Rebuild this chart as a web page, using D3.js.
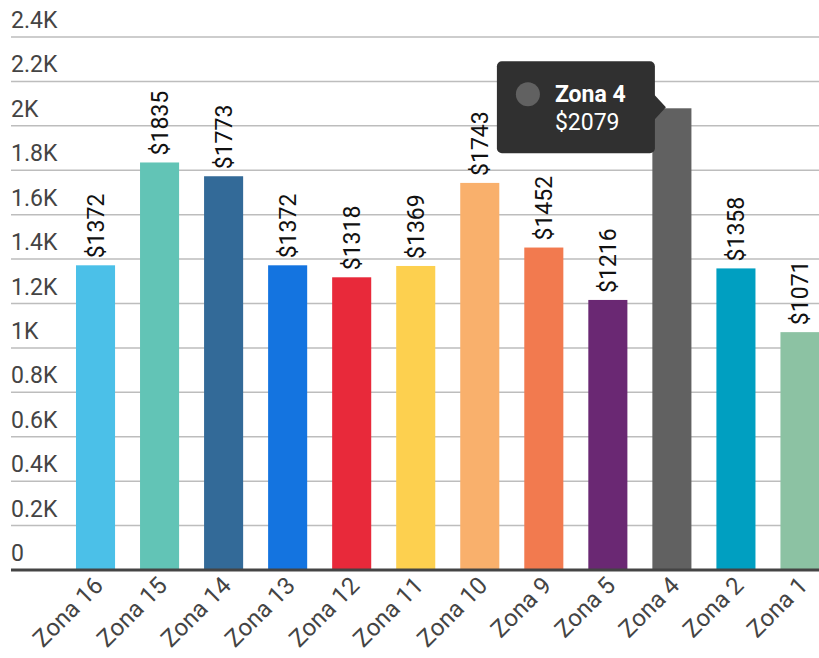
<!DOCTYPE html>
<html>
<head>
<meta charset="utf-8">
<script src="https://cdn.jsdelivr.net/npm/d3@7"></script>
<style>
  body { margin: 0; background: #fff; }
  svg { display: block; font-family: Roboto, sans-serif; }
</style>
</head>
<body>
<div id="chart"></div>
<script>
// dados - data
var zonas = ['Zona 16', 'Zona 15', 'Zona 14', 'Zona 13', 'Zona 12', 'Zona 11', 'Zona 10', 'Zona 9', 'Zona 5', 'Zona 4', 'Zona 2', 'Zona 1'];
var valores = [1372, 1835, 1773, 1372, 1318, 1369, 1743, 1452, 1216, 2079, 1358, 1071];
var cores = ['#4bc0e8', '#62c4b6', '#336a98', '#1474e0', '#e8293a', '#fdd04f', '#f9b06c', '#f27a4f', '#6a2873', '#616161', '#009fc1', '#8cc2a3'];
var ticks = [0, 200, 400, 600, 800, 1000, 1200, 1400, 1600, 1800, 2000, 2200, 2400];
var tickLabels = ['0', '0.2K', '0.4K', '0.6K', '0.8K', '1K', '1.2K', '1.4K', '1.6K', '1.8K', '2K', '2.2K', '2.4K'];
var destaque = 'Zona 4'; // barra com o tooltip aberto

var data = zonas.map(function(z, i){ return {zona: z, valor: valores[i], cor: cores[i]}; });

var width = 819, height = 658;

var svg = d3.select('#chart')
.append('svg')
.attr('width', width)
.attr('height', height);

var x = d3.scaleBand()
.domain(zonas)
.range([63.5, 832])
.paddingInner(0.39)
.paddingOuter(0.195);

var y = d3.scaleLinear()
.domain([0, 2400])
.range([570, 37]);

// grid + tick labels
var grid = svg.append('g')
.selectAll('g.tick')
.data(ticks)
.enter()
.append('g')
.attr('class', 'tick')
.attr('transform', function(d){ return 'translate(0,' + y(d) + ')'; });

grid.filter(function(d){ return d > 0; })
.append('line')
.attr('x1', 11)
.attr('x2', width)
.attr('stroke', '#bdbdbd')
.attr('stroke-width', 1.5);

grid.append('text')
.text(function(d, i){ return tickLabels[i]; })
.attr('x', 11)
.attr('y', -9)
.attr('fill', '#444')
.style('font-size', '23px');

// barras - bars
svg.append('g')
.selectAll('rect')
.data(data)
.enter()
.append('rect')
.attr('x', function(d){ return x(d.zona); })
.attr('y', function(d){ return y(d.valor); })
.attr('width', x.bandwidth())
.attr('height', function(d){ return y(0) - y(d.valor); })
.attr('fill', function(d){ return d.cor; });

// baseline
svg.append('line')
.attr('x1', 11)
.attr('x2', width)
.attr('y1', y(0))
.attr('y2', y(0))
.attr('stroke', '#444')
.attr('stroke-width', 3);

// valores em cima das barras - value labels (a barra em destaque fica sem)
svg.append('g')
.selectAll('text')
.data(data.filter(function(d){ return d.zona !== destaque; }))
.enter()
.append('text')
.text(function(d){ return '$' + d.valor; })
.attr('transform', function(d){
    return 'translate(' + (x(d.zona) + x.bandwidth() / 2 + 8) + ',' + (y(d.valor) - 7) + ') rotate(-90)';
})
.attr('fill', '#111')
.style('font-size', '23px');

// x labels
svg.append('g')
.selectAll('text')
.data(data)
.enter()
.append('text')
.text(function(d){ return d.zona; })
.attr('text-anchor', 'end')
.attr('transform', function(d){
    return 'translate(' + (x(d.zona) + x.bandwidth() / 2 + 9) + ',' + 587 + ') rotate(-45)';
})
.attr('fill', '#444')
.style('font-size', '24px');

// tooltip
var td = data.filter(function(d){ return d.zona === destaque; })[0];
var tipX = x(td.zona) + x.bandwidth() / 2 - 6;
var tipY = y(td.valor) - 1;
var boxR = tipX - 11, boxW = 158, boxH = 92;
var boxL = boxR - boxW, boxT = tipY - boxH / 2;

var tip = svg.append('g');

tip.append('rect')
.attr('x', boxL)
.attr('y', boxT)
.attr('width', boxW)
.attr('height', boxH)
.attr('rx', 5)
.attr('fill', '#303030');

tip.append('path')
.attr('d', 'M' + (boxR - 1) + ',' + (tipY - 13) + 'L' + tipX + ',' + tipY + 'L' + (boxR - 1) + ',' + (tipY + 13) + 'Z')
.attr('fill', '#303030');

tip.append('circle')
.attr('cx', boxL + 31)
.attr('cy', boxT + 33)
.attr('r', 12)
.attr('fill', td.cor);

tip.append('text')
.text(td.zona)
.attr('x', boxL + 58)
.attr('y', boxT + 41)
.attr('fill', '#fff')
.style('font-weight', 700)
.style('font-size', '23px');

tip.append('text')
.text('$' + td.valor)
.attr('x', boxL + 58)
.attr('y', boxT + 69)
.attr('fill', '#fff')
.style('font-size', '23px');
</script>
</body>
</html>
